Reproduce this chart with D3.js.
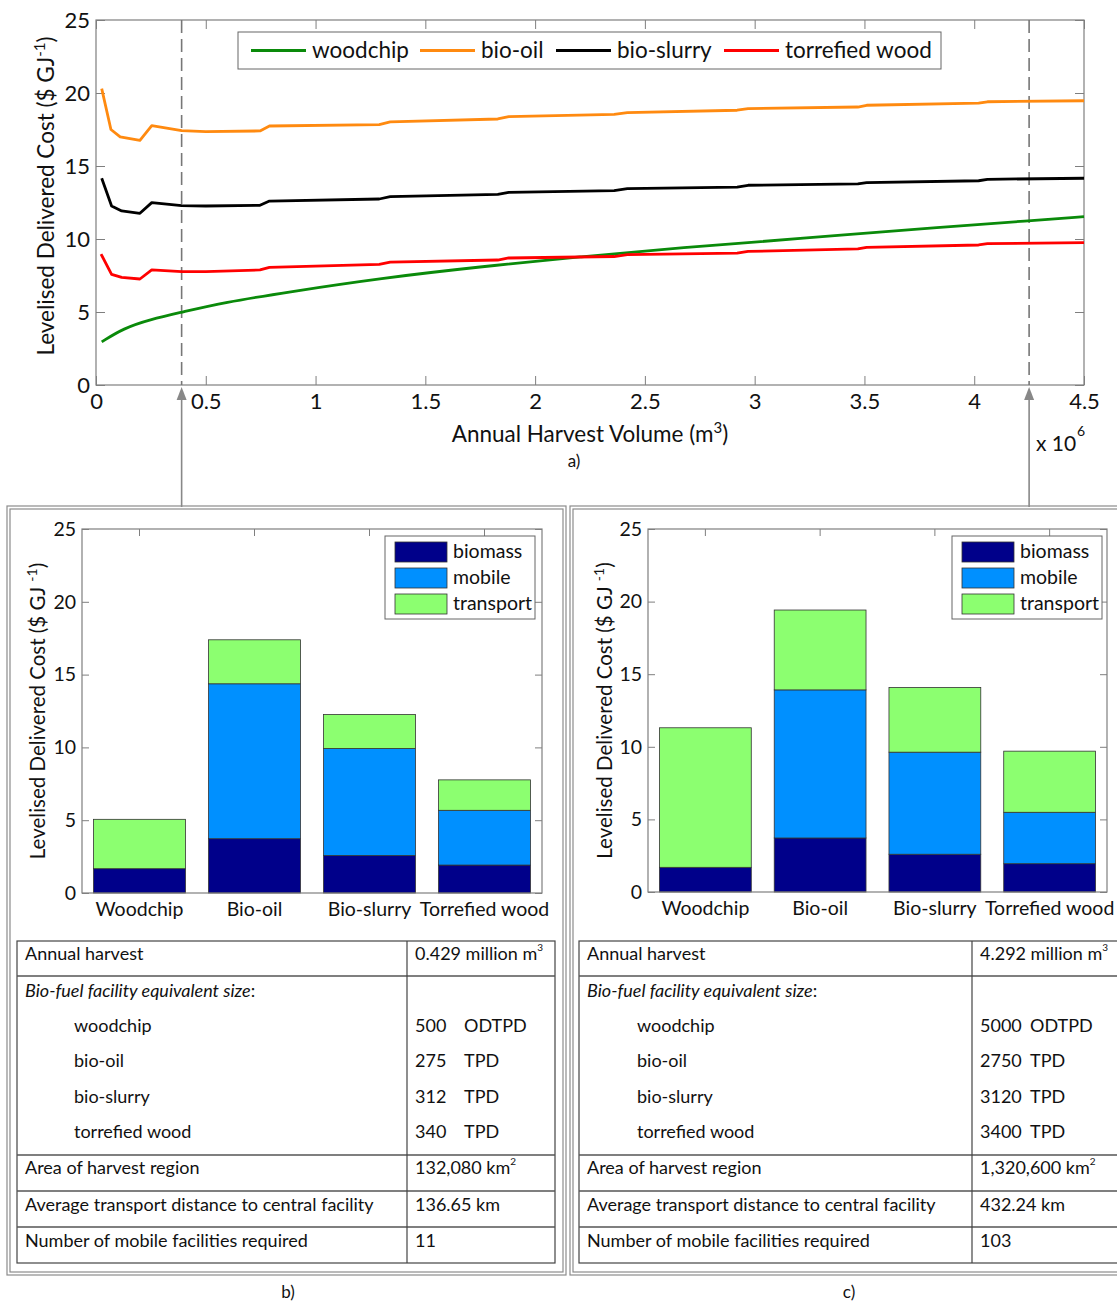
<!DOCTYPE html>
<html>
<head>
<meta charset="utf-8">
<script src="https://cdn.jsdelivr.net/npm/d3@7"></script>
<style>
  body { margin: 0; background: #fff; }
  text { font-family: Lato, "Open Sans", sans-serif; fill: #111; }
</style>
</head>
<body>
<svg id="chart" width="1117" height="1302"></svg>
<script>
// top chart: levelised delivered cost vs annual harvest (million m3)
const woodchipLine = [[0.026, 2.95], [0.124, 3.88], [0.25, 4.5], [0.39, 4.98], [0.58, 5.65], [0.884, 6.39], [1.294, 7.31], [1.749, 8.1], [2.205, 8.78], [2.66, 9.4], [3.22, 10.05], [3.877, 10.84], [4.25, 11.25], [4.5, 11.53]];
const bioOilLine = [[0.026, 20.3], [0.068, 17.5], [0.11, 17.0], [0.2, 16.75], [0.254, 17.76], [0.39, 17.42], [0.5, 17.36], [0.747, 17.4], [0.79, 17.74], [1.29, 17.84], [1.34, 18.02], [1.83, 18.22], [1.88, 18.38], [2.36, 18.54], [2.42, 18.66], [2.92, 18.82], [2.97, 18.93], [3.47, 19.04], [3.51, 19.16], [4.02, 19.3], [4.06, 19.4], [4.5, 19.47]];
const bioSlurryLine = [[0.026, 14.16], [0.071, 12.26], [0.117, 11.92], [0.2, 11.76], [0.254, 12.49], [0.39, 12.28], [0.5, 12.26], [0.747, 12.31], [0.79, 12.6], [1.29, 12.74], [1.34, 12.9], [1.83, 13.06], [1.88, 13.2], [2.36, 13.31], [2.42, 13.45], [2.92, 13.55], [2.97, 13.68], [3.47, 13.77], [3.51, 13.86], [4.02, 13.99], [4.06, 14.09], [4.5, 14.16]];
const torrefiedLine = [[0.023, 8.97], [0.071, 7.58], [0.117, 7.37], [0.2, 7.26], [0.254, 7.88], [0.39, 7.76], [0.5, 7.77], [0.747, 7.88], [0.79, 8.06], [1.29, 8.26], [1.34, 8.42], [1.83, 8.56], [1.88, 8.7], [2.36, 8.8], [2.42, 8.93], [2.92, 9.03], [2.97, 9.15], [3.47, 9.32], [3.51, 9.43], [4.02, 9.59], [4.06, 9.68], [4.5, 9.75]];
const lineNames = ["woodchip", "bio-oil", "bio-slurry", "torrefied wood"];
const lineColors = ["#0a8a0a", "#ff8a10", "#000000", "#ff0000"];
const xTicks = [0, 0.5, 1, 1.5, 2, 2.5, 3, 3.5, 4, 4.5];
const yTicks = [0, 5, 10, 15, 20, 25];
const markerHarvest = [0.39, 4.25]; // dashed markers as drawn

// bar charts
const barCategories = ["Woodchip", "Bio-oil", "Bio-slurry", "Torrefied wood"];
const costParts = ["biomass", "mobile", "transport"];
const partColors = ["#00008a", "#0090ff", "#8cff70"];
const smallBiomass = [1.67, 3.73, 2.57, 1.92];
const smallMobile = [0, 10.64, 7.35, 3.76];
const smallTransport = [3.39, 3.02, 2.34, 2.09];
const largeBiomass = [1.70, 3.72, 2.60, 1.95];
const largeMobile = [0, 10.2, 7.03, 3.54];
const largeTransport = [9.61, 5.5, 4.46, 4.21];

// tables
const smallTable = ["0.429 million m", "", "500|ODTPD", "275|TPD", "312|TPD", "340|TPD", "132,080 km", "136.65 km", "11"];
const largeTable = ["4.292 million m", "", "5000|ODTPD", "2750|TPD", "3120|TPD", "3400|TPD", "1,320,600 km", "432.24 km", "103"];
const tableLabels = ["Annual harvest", "Bio-fuel facility equivalent size", "woodchip", "bio-oil", "bio-slurry", "torrefied wood", "Area of harvest region", "Average transport distance to central facility", "Number of mobile facilities required"];
const valueSups = ["3", "", "", "", "", "", "2", "", ""];

const svg = d3.select('#chart');
svg.append('rect').attr('width', 1117).attr('height', 1302).attr('fill', '#fff');

const axisGray = '#7f7f7f';

function styleAxis(g, fontSize) {
    g.select('.domain').remove();
    g.selectAll('.tick line').attr('stroke', axisGray);
    g.selectAll('.tick text').attr('font-size', fontSize).attr('fill', '#111')
        .style('font-family', 'Lato, sans-serif');
}

// ---------- panel a ----------
const x = d3.scaleLinear().domain([0, 4.5]).range([96, 1084]);
const y = d3.scaleLinear().domain([0, 25]).range([385, 20]);

svg.append('g').attr('transform', 'translate(0,385)')
    .call(d3.axisBottom(x).tickValues(xTicks).tickFormat(d3.format('')).tickSizeInner(-9).tickSizeOuter(0).tickPadding(8))
    .call(g => styleAxis(g, 22));
svg.append('g').attr('transform', 'translate(0,20)')
    .call(d3.axisTop(x).tickValues(xTicks).tickFormat('').tickSizeInner(-9).tickSizeOuter(0))
    .call(g => styleAxis(g, 22));
svg.append('g').attr('transform', 'translate(96,0)')
    .call(d3.axisLeft(y).tickValues(yTicks).tickSizeInner(-9).tickSizeOuter(0).tickPadding(6))
    .call(g => styleAxis(g, 22));
svg.append('g').attr('transform', 'translate(1084,0)')
    .call(d3.axisRight(y).tickValues(yTicks).tickFormat('').tickSizeInner(-9).tickSizeOuter(0))
    .call(g => styleAxis(g, 22));

svg.append('rect')
    .attr('x', x(0)).attr('y', y(25))
    .attr('width', x(4.5) - x(0)).attr('height', y(0) - y(25))
    .attr('fill', 'none').attr('stroke', axisGray).attr('stroke-width', 1.2);

// dashed markers and arrows
markerHarvest.forEach(h => {
    svg.append('line')
        .attr('x1', x(h)).attr('x2', x(h))
        .attr('y1', y(25)).attr('y2', y(0))
        .attr('stroke', '#777').attr('stroke-width', 1.6)
        .attr('stroke-dasharray', '13,6');
    svg.append('line')
        .attr('x1', x(h)).attr('x2', x(h))
        .attr('y1', y(0) + 14).attr('y2', 507)
        .attr('stroke', '#888').attr('stroke-width', 1.6);
    svg.append('path')
        .attr('d', `M${x(h)},${y(0) + 2} L${x(h) - 5},${y(0) + 15} L${x(h) + 5},${y(0) + 15} Z`)
        .attr('fill', '#888');
});

const line = d3.line().x(d => x(d[0])).y(d => y(d[1]));
const smoothLine = d3.line().x(d => x(d[0])).y(d => y(d[1])).curve(d3.curveBasis);
[woodchipLine, bioOilLine, bioSlurryLine, torrefiedLine].forEach((data, i) => {
    svg.append('path')
        .attr('d', i === 0 ? smoothLine(data) : line(data))
        .attr('fill', 'none')
        .attr('stroke', lineColors[i])
        .attr('stroke-width', 2.8)
        .attr('stroke-linejoin', 'round');
});

// legend a
svg.append('rect').attr('x', 238).attr('y', 32).attr('width', 703).attr('height', 37)
    .attr('fill', '#fff').attr('stroke', '#666').attr('stroke-width', 1);
const legendStarts = [251, 420, 556, 724];
lineNames.forEach((name, i) => {
    svg.append('line')
        .attr('x1', legendStarts[i]).attr('x2', legendStarts[i] + 55)
        .attr('y1', 50.5).attr('y2', 50.5)
        .attr('stroke', lineColors[i]).attr('stroke-width', 3);
    svg.append('text')
        .attr('x', legendStarts[i] + 61).attr('y', 58)
        .attr('font-size', 22.5).text(name);
});

// axis labels a
svg.append('text')
    .attr('transform', 'translate(54,196) rotate(-90)')
    .attr('text-anchor', 'middle').attr('font-size', 22.5)
    .call(t => {
        t.append('tspan').text('Levelised Delivered Cost ($ GJ');
        t.append('tspan').attr('dy', -9).attr('font-size', 15).text('-1');
        t.append('tspan').attr('dy', 9).text(')');
    });
svg.append('text')
    .attr('x', 590).attr('y', 442).attr('text-anchor', 'middle').attr('font-size', 22.5)
    .call(t => {
        t.append('tspan').text('Annual Harvest Volume (m');
        t.append('tspan').attr('dy', -9).attr('font-size', 15).text('3');
        t.append('tspan').attr('dy', 9).text(')');
    });
svg.append('text').attr('x', 1036).attr('y', 451).attr('font-size', 21).text('x 10');
svg.append('text').attr('x', 1077).attr('y', 436).attr('font-size', 14).text('6');
svg.append('text').attr('x', 574).attr('y', 467).attr('text-anchor', 'middle').attr('font-size', 17).text('a)');

// ---------- panels b and c ----------
function drawBox(x0, y0, x1, y1) {
    [0, 3].forEach(inset => {
        svg.append('rect')
            .attr('x', x0 + inset).attr('y', y0 + inset)
            .attr('width', x1 - x0 - 2 * inset).attr('height', y1 - y0 - 2 * inset)
            .attr('fill', 'none').attr('stroke', '#8c8c8c').attr('stroke-width', 1.2);
    });
}
drawBox(7, 506, 566, 1275);
drawBox(570, 506, 1130, 1275);

function drawBars(left, right, top, bottom, biomass, mobile, transport, legendX, labelX) {
    const xb = d3.scaleBand().domain(barCategories).range([left, right]).paddingInner(0.2).paddingOuter(0.1);
    const yb = d3.scaleLinear().domain([0, 25]).range([bottom, top]);
    const rows = barCategories.map((c, i) => ({ cat: c, biomass: biomass[i], mobile: mobile[i], transport: transport[i] }));
    const stacked = d3.stack().keys(costParts)(rows);

    svg.append('g').attr('transform', `translate(0,${bottom})`)
        .call(d3.axisBottom(xb).tickSizeInner(-7).tickSizeOuter(0).tickPadding(9))
        .call(g => styleAxis(g, 19.5));
    svg.append('g').attr('transform', `translate(0,${top})`)
        .call(d3.axisTop(xb).tickFormat('').tickSizeInner(-7).tickSizeOuter(0))
        .call(g => styleAxis(g, 19.5));
    svg.append('g').attr('transform', `translate(${left},0)`)
        .call(d3.axisLeft(yb).tickValues(yTicks).tickSizeInner(-7).tickSizeOuter(0).tickPadding(6))
        .call(g => styleAxis(g, 19.5));
    svg.append('g').attr('transform', `translate(${right},0)`)
        .call(d3.axisRight(yb).tickValues(yTicks).tickFormat('').tickSizeInner(-7).tickSizeOuter(0))
        .call(g => styleAxis(g, 19.5));

    stacked.forEach((layer, k) => {
        svg.append('g').selectAll('rect')
            .data(layer.filter(d => d[1] > d[0]))
            .enter()
            .append('rect')
            .attr('x', d => xb(d.data.cat))
            .attr('y', d => yb(d[1]))
            .attr('width', xb.bandwidth())
            .attr('height', d => yb(d[0]) - yb(d[1]))
            .attr('fill', partColors[k])
            .attr('stroke', '#333').attr('stroke-width', 0.8);
    });

    svg.append('rect')
        .attr('x', left).attr('y', top).attr('width', right - left).attr('height', bottom - top)
        .attr('fill', 'none').attr('stroke', axisGray).attr('stroke-width', 1.2);

    // legend
    svg.append('rect').attr('x', legendX).attr('y', 536).attr('width', 150).attr('height', 83)
        .attr('fill', '#fff').attr('stroke', '#666').attr('stroke-width', 1);
    costParts.forEach((p, k) => {
        svg.append('rect')
            .attr('x', legendX + 10).attr('y', 542 + k * 26)
            .attr('width', 52).attr('height', 20)
            .attr('fill', partColors[k]).attr('stroke', '#333').attr('stroke-width', 0.8);
        svg.append('text')
            .attr('x', legendX + 68).attr('y', 558 + k * 26)
            .attr('font-size', 19.5).text(p);
    });

    svg.append('text')
        .attr('transform', `translate(${labelX},${(top + bottom) / 2}) rotate(-90)`)
        .attr('text-anchor', 'middle').attr('font-size', 20.5)
        .call(t => {
            t.append('tspan').text('Levelised Delivered Cost ($ GJ ');
            t.append('tspan').attr('dy', -8).attr('font-size', 14).text('-1');
            t.append('tspan').attr('dy', 8).text(')');
        });
}

drawBars(82, 542, 529, 893, smallBiomass, smallMobile, smallTransport, 385, 45);
drawBars(648, 1107, 529, 892, largeBiomass, largeMobile, largeTransport, 952, 612);

function drawTable(left, divider, right, values, textX, indentX, valueX, unitX) {
    const rowLines = [941, 976, 1155, 1191, 1227, 1263];
    const rowCenters = [953, 990, 1025, 1060, 1096, 1131, 1167, 1204, 1240];
    svg.append('rect').attr('x', left).attr('y', 941).attr('width', right - left).attr('height', 1263 - 941)
        .attr('fill', 'none').attr('stroke', '#444').attr('stroke-width', 1.2);
    rowLines.slice(1, -1).forEach(yy => {
        svg.append('line').attr('x1', left).attr('x2', right).attr('y1', yy).attr('y2', yy)
            .attr('stroke', '#555').attr('stroke-width', 1.4);
    });
    svg.append('line').attr('x1', divider).attr('x2', divider).attr('y1', 941).attr('y2', 1263)
        .attr('stroke', '#444').attr('stroke-width', 1.2);

    tableLabels.forEach((lab, i) => {
        const t = svg.append('text')
            .attr('x', (i >= 2 && i <= 5) ? indentX : textX)
            .attr('y', rowCenters[i] + 6.5)
            .attr('font-size', 18);
        if (i === 1) {
            t.append('tspan').attr('font-style', 'italic').text(lab);
            t.append('tspan').text(':');
        } else {
            t.text(lab);
        }
        const v = values[i];
        if (!v) return;
        if (v.includes('|')) {
            const [num, unit] = v.split('|');
            svg.append('text').attr('x', valueX).attr('y', rowCenters[i] + 6.5).attr('font-size', 18).text(num);
            svg.append('text').attr('x', unitX).attr('y', rowCenters[i] + 6.5).attr('font-size', 18).text(unit);
        } else {
            const vt = svg.append('text').attr('x', valueX).attr('y', rowCenters[i] + 6.5).attr('font-size', 18);
            vt.append('tspan').text(v);
            if (valueSups[i]) vt.append('tspan').attr('dy', -9).attr('font-size', 10).text(valueSups[i]);
        }
    });
}

drawTable(17, 407, 555, smallTable, 25, 74, 415, 464);
drawTable(579, 972, 1135, largeTable, 587, 637, 980, 1030);

svg.append('text').attr('x', 288).attr('y', 1298).attr('text-anchor', 'middle').attr('font-size', 17).text('b)');
svg.append('text').attr('x', 849).attr('y', 1298).attr('text-anchor', 'middle').attr('font-size', 17).text('c)');
</script>
</body>
</html>
